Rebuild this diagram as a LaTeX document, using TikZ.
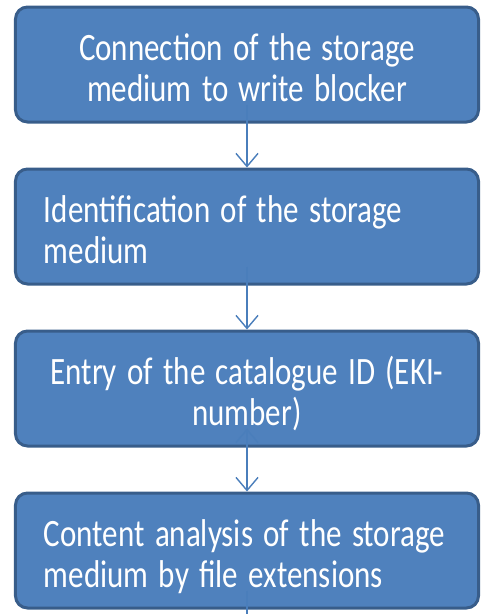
\documentclass[tikz,border=0pt]{standalone}
\usepackage{fontspec}
\setmainfont{Carlito}
\usetikzlibrary{arrows.meta,matrix}
\definecolor{boxfill}{HTML}{4F81BD}
\definecolor{boxline}{HTML}{385D8A}
\definecolor{linkcol}{HTML}{4A7EBB}
\newcommand{\tallt}[2]{\raisebox{-8pt}[\height][\depth]{%
    \scalebox{1}[1.25]{\begin{tabular}{@{}#1@{}}#2\end{tabular}}}}

\begin{document}
\begin{tikzpicture}[x=1pt,y=1pt
  ,->,>={Straight Barb[length=13pt,width=22pt]}
  ,semithick]
  \tikzset{stepbox/.style={rectangle,rounded corners=12pt,fill=boxfill,
      draw=boxline,line width=3pt,text=white,
      minimum width=463pt,minimum height=115pt,
      inner xsep=28.5pt,text width=406pt,
      font=\fontsize{31}{33}\selectfont},
    link/.style={draw=linkcol,line width=1.4pt}}
  \useasboundingbox (0,0) rectangle (481,-614);

  \matrix (m) [row sep=44pt] at (247,-307.5) {
    \node[stepbox,align=center](conn) {\tallt{c}{Connection of the storage\\medium to write blocker}}; \\
    \node[stepbox,align=left](ident) {\tallt{l}{Identification of the storage\\medium}}; \\
    \node[stepbox,align=center](entry) {\tallt{c}{Entry of the catalogue ID (EKI-\\number)}}; \\
    \node[stepbox,align=left](ana) {\tallt{l}{Content analysis of the storage\\medium by file extensions}}; \\
  };
  \coordinate (end) at (ana.south |- 0,-614);

  \path[link]
  ([yshift=19pt]conn.south)  edge (ident.north)
  ([yshift=19pt]ident.south) edge (entry.north)
  ([yshift=19pt]entry.south) edge (ana.north)
  ;
  \draw[link,-] ([yshift=19pt]ana.south) -- (end);

\end{tikzpicture}
\end{document}
